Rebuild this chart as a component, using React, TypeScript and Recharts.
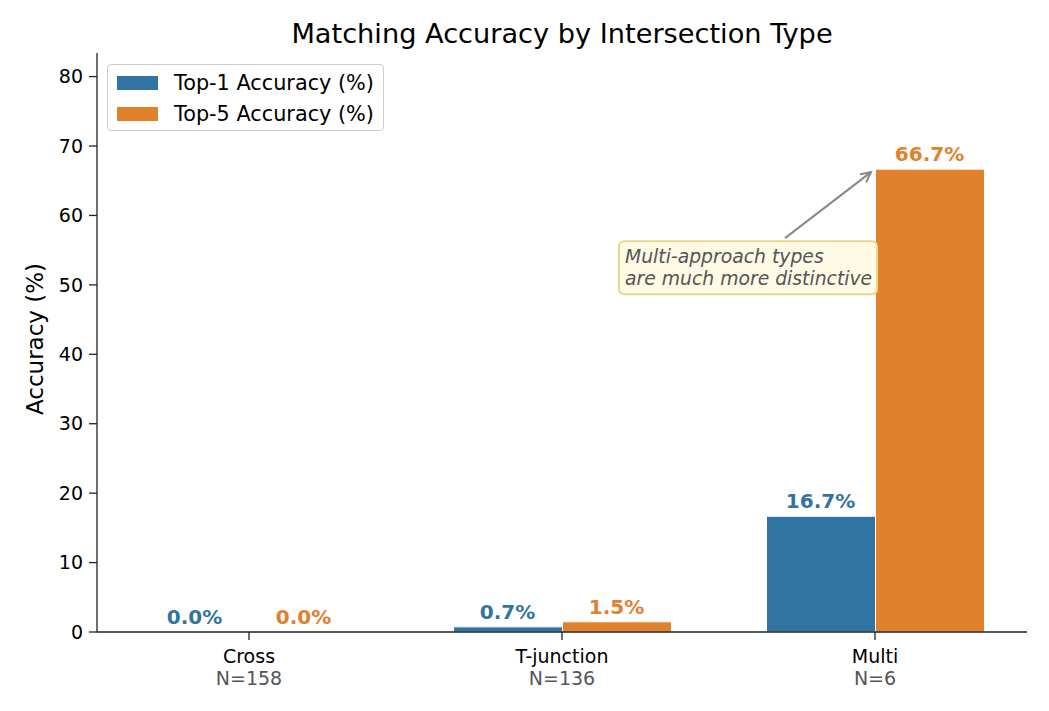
import React from 'react';
import { BarChart, Bar, XAxis, YAxis, ReferenceDot } from 'recharts';

const categories = ['Cross', 'T-junction', 'Multi'];
const sampleCounts = [158, 136, 6];
const top1Accuracy = [0.0, 0.74, 16.67];
const top5Accuracy = [0.0, 1.47, 66.67];
const yTicks = [0, 10, 20, 30, 40, 50, 60, 70, 80];
const seriesNames = ['Top-1 Accuracy (%)', 'Top-5 Accuracy (%)'];
const seriesColors = ['#3274a1', '#e1812c'];
const annotationLines = ['Multi-approach types', 'are much more distinctive'];

const data = categories.map((c, i) => ({
  name: c,
  n: sampleCounts[i],
  top1: top1Accuracy[i],
  top5: top5Accuracy[i],
}));

const BAR_SIZE = 109;
const FONT = '"DejaVu Sans", sans-serif';

const XTick = (props: any) => {
  const { x, y, payload } = props;
  const i = categories.indexOf(payload.value);
  return (
    <g>
      <text x={x} y={y + 21} textAnchor="middle" fontSize={19} fill="#000" fontFamily={FONT}>
        {payload.value}
      </text>
      <text x={x} y={y + 43} textAnchor="middle" fontSize={19} fill="#555" fontFamily={FONT}>
        {`N=${sampleCounts[i]}`}
      </text>
    </g>
  );
};

// value label drawn above each bar (series offset of half a bar from the category centre)
const makeValueLabel = (value: number, seriesIndex: number) => (props: any) => {
  const { cx, cy } = props;
  const shift = (seriesIndex === 0 ? -1 : 1) * (BAR_SIZE / 2);
  return (
    <text
      x={cx + shift}
      y={cy - 8}
      textAnchor="middle"
      fontSize={20}
      fontWeight="bold"
      fill={seriesColors[seriesIndex]}
      fontFamily={FONT}
    >
      {`${value.toFixed(1)}%`}
    </text>
  );
};

const LegendBox = () => (
  <div
    style={{
      position: 'absolute',
      left: 107,
      top: 64,
      border: '1px solid #cccccc',
      borderRadius: 4,
      background: 'rgba(255,255,255,0.8)',
      width: 275,
      height: 65,
      fontFamily: FONT,
      fontSize: 20.8,
      color: '#000',
      zIndex: 2,
    }}
  >
    {seriesNames.map((name, i) => (
      <div key={name} style={{ position: 'absolute', left: 9, top: 8 + i * 31, height: 20, display: 'flex', alignItems: 'center' }}>
        <div style={{ width: 41, height: 14, background: seriesColors[i] }} />
        <span style={{ marginLeft: 16, whiteSpace: 'nowrap', lineHeight: '20px' }}>{name}</span>
      </div>
    ))}
  </div>
);

const AnnotationShape = (props: any) => {
  const { cx, cy } = props;
  const tipX = cx - 4;
  const tipY = cy + 3;
  const sx = cx - 90;
  const sy = cy + 69;
  const dx = tipX - sx;
  const dy = tipY - sy;
  const len = Math.sqrt(dx * dx + dy * dy);
  const ux = dx / len;
  const uy = dy / len;
  const px = -uy;
  const py = ux;
  const hl = 10;
  const hw = 5;
  const h1x = tipX - hl * ux + hw * px;
  const h1y = tipY - hl * uy + hw * py;
  const h2x = tipX - hl * ux - hw * px;
  const h2y = tipY - hl * uy - hw * py;
  const boxX = cx - 256;
  const boxY = cy + 72;
  return (
    <g>
      <line x1={sx} y1={sy} x2={tipX} y2={tipY} stroke="#888" strokeWidth={2} />
      <polyline points={`${h1x},${h1y} ${tipX},${tipY} ${h2x},${h2y}`} fill="none" stroke="#888" strokeWidth={2} />
      <rect x={boxX} y={boxY} width={258} height={53} rx={5} ry={5} fill="#fefae6" stroke="#e3d98f" strokeWidth={2} />
      {annotationLines.map((t, i) => (
        <text
          key={t}
          x={boxX + 6}
          y={boxY + 22 + i * 22}
          fontSize={18.8}
          fontStyle="italic"
          fill="#555"
          fontFamily={FONT}
        >
          {t}
        </text>
      ))}
    </g>
  );
};

export default function App() {
  const seriesValues = [top1Accuracy, top5Accuracy];
  return (
    <div style={{ position: 'absolute', left: 0, top: 0, width: 1049, height: 711, background: '#fff' }}>
      <div
        style={{
          position: 'absolute',
          left: 0,
          width: 1124,
          top: 16,
          textAlign: 'center',
          fontFamily: FONT,
          fontSize: 27.2,
          color: '#000',
          lineHeight: '36px',
          whiteSpace: 'nowrap',
        }}
      >
        Matching Accuracy by Intersection Type
      </div>
      <div
        style={{
          position: 'absolute',
          left: 35,
          top: 339,
          transform: 'translate(-50%, -50%) rotate(-90deg)',
          fontFamily: FONT,
          fontSize: 23,
          color: '#000',
          whiteSpace: 'nowrap',
          lineHeight: '26px',
        }}
      >
        Accuracy (%)
      </div>
      <LegendBox />
      <BarChart
        width={1049}
        height={711}
        data={data}
        margin={{ top: 53, right: 22, bottom: 0, left: 0 }}
        barGap={0}
        style={{ position: 'absolute', left: 0, top: 0, fontFamily: FONT }}
      >
        <XAxis
          dataKey="name"
          height={79}
          padding={{ left: -4.5, right: -4.5 }}
          axisLine={{ stroke: '#222', strokeWidth: 1.3 }}
          tickLine={{ stroke: '#222', strokeWidth: 1.3 }}
          tickSize={8}
          tickMargin={2}
          tick={<XTick />}
          interval={0}
        />
        <YAxis
          width={97}
          domain={[0, 83.4]}
          ticks={yTicks}
          allowDataOverflow
          axisLine={{ stroke: '#222', strokeWidth: 1.3 }}
          tickLine={{ stroke: '#222', strokeWidth: 1.3 }}
          tickSize={8}
          tickMargin={6}
          tick={{ fill: '#000', fontSize: 19, fontFamily: FONT }}
        />
        <Bar
          dataKey="top1"
          name={seriesNames[0]}
          fill={seriesColors[0]}
          stroke="#fff"
          strokeWidth={1}
          barSize={BAR_SIZE}
          isAnimationActive={false}
        />
        <Bar
          dataKey="top5"
          name={seriesNames[1]}
          fill={seriesColors[1]}
          stroke="#fff"
          strokeWidth={1}
          barSize={BAR_SIZE}
          isAnimationActive={false}
        />
        {seriesValues.map((vals, s) =>
          categories.map((c, i) => (
            <ReferenceDot
              key={`lbl-${s}-${c}`}
              x={c}
              y={vals[i]}
              r={0}
              ifOverflow="visible"
              shape={makeValueLabel(vals[i], s)}
            />
          ))
        )}
        <ReferenceDot x="Multi" y={66.67} r={0} shape={<AnnotationShape />} ifOverflow="visible" />
      </BarChart>
    </div>
  );
}
